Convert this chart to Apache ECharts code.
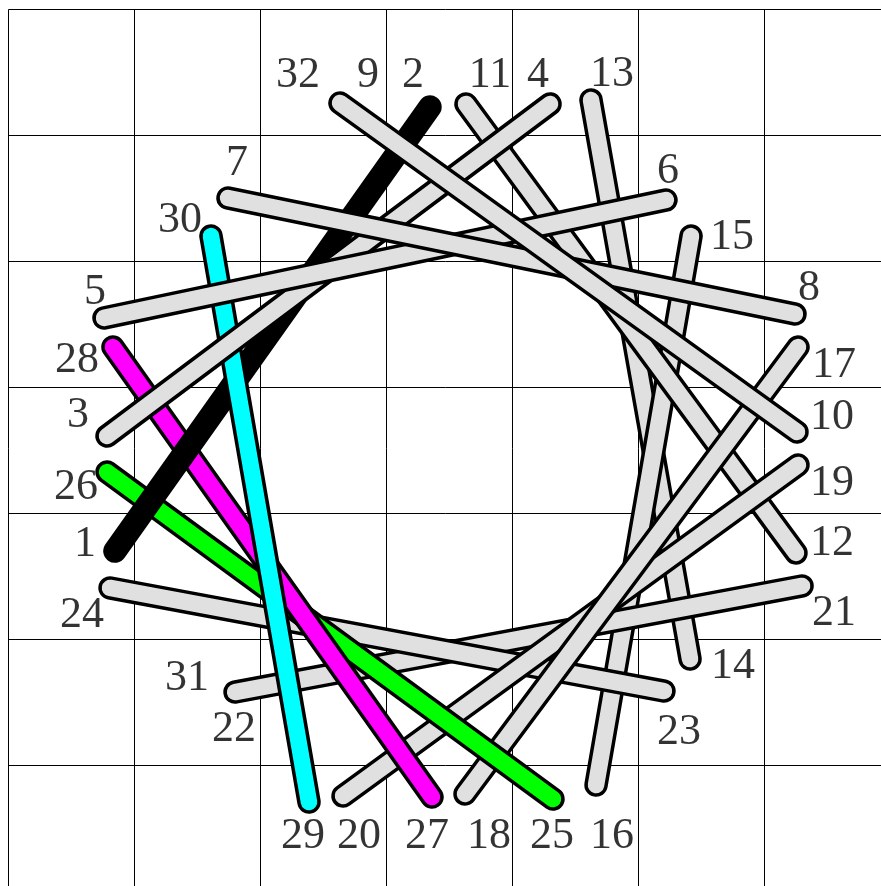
<!DOCTYPE html>
<html><head><meta charset="utf-8">
<script src="https://cdn.jsdelivr.net/npm/echarts@6/dist/echarts.min.js"></script>
<style>html,body{margin:0;padding:0;background:#fff}#c{width:881px;height:886px}</style>
</head><body><div id="c"></div>
<script>
// Endpoint coordinates (grid cell units, y measured downward from the top line)
const pointNumbers = [1,2,3,4,5,6,7,8,9,10,11,12,13,14,15,16,17,18,19,20,21,22,23,24,25,26,27,28,29,30];
const pointX = [0.845,3.345,0.782,4.298,0.758,5.218,1.742,6.242,2.631,6.258,3.631,6.25,4.623,5.409,5.417,4.663,6.266,3.623,6.266,2.655,6.298,1.798,5.202,0.806,4.321,0.782,3.361,0.829,2.385,1.607];
const pointY = [4.298,0.774,3.385,0.75,2.448,1.512,1.496,2.417,0.742,3.353,0.75,4.313,0.718,5.155,1.798,6.155,2.679,6.226,3.615,6.242,4.575,5.417,5.409,4.591,6.266,3.671,6.25,2.679,6.29,1.798];

// Sticks (pairs of endpoint numbers), listed from bottom to top
const sticks = [[13,14],[15,16],[11,12],[21,22],[23,24],[19,20],[17,18],[25,26],[27,28],[1,2],[29,30],[3,4],[5,6],[7,8],[9,10]];
const stickColors = ['#e0e0e0','#e0e0e0','#e0e0e0','#e0e0e0','#e0e0e0','#e0e0e0','#e0e0e0','#00ff00','#ff00ff','#000000','#00ffff','#e0e0e0','#e0e0e0','#e0e0e0','#e0e0e0'];

// Number labels
const labelText = ['32','9','2','11','4','13','7','6','30','15','5','8','28','17','3','10','26','19','1','12','24','21','31','14','22','23','29','20','27','18','25','16'];
const labelX = [2.298,2.853,3.21,3.821,4.202,4.79,1.813,5.234,1.361,5.742,0.687,6.353,0.544,6.552,0.552,6.536,0.536,6.536,0.607,6.536,0.583,6.552,1.417,5.75,1.79,5.321,2.337,2.782,3.321,3.813,4.313,4.79];
const labelY = [0.52,0.52,0.52,0.52,0.52,0.512,1.218,1.282,1.671,1.806,2.242,2.21,2.782,2.821,3.218,3.234,3.79,3.758,4.242,4.234,4.806,4.79,5.306,5.21,5.71,5.734,6.56,6.56,6.56,6.56,6.56,6.56];

const pt = n => { const i = pointNumbers.indexOf(n); return [pointX[i], pointY[i]]; };
const series = [];
sticks.forEach((s, k) => {
  const data = [pt(s[0]), pt(s[1])];
  series.push({type:'line', data, symbol:'none', silent:true, animation:false,
    lineStyle:{color:'#000', width:23.5, cap:'round'}});
  series.push({type:'line', data, symbol:'none', silent:true, animation:false,
    lineStyle:{color:stickColors[k], width:16.5, cap:'round'}});
});
series.push({type:'scatter', symbolSize:0, silent:true, animation:false,
  data: labelText.map((t,i)=>[labelX[i], labelY[i], t]),
  label:{show:true, position:'inside', formatter:p=>p.value[2],
    fontFamily:'Liberation Serif', fontSize:44, color:'#000', textBorderWidth:0}});

const chart = echarts.init(document.getElementById('c'), null, {renderer:'canvas'});
chart.setOption({
  animation:false,
  grid:{left:8.5, top:9.5, width:882, height:882, show:false, outerBoundsMode:'none', containLabel:false},
  xAxis:{type:'value', min:0, max:7, interval:1, axisLine:{show:false}, axisTick:{show:false}, axisLabel:{show:false},
    splitLine:{show:true, lineStyle:{color:'#000', width:1}}},
  yAxis:{type:'value', min:0, max:7, interval:1, inverse:true, axisLine:{show:false}, axisTick:{show:false}, axisLabel:{show:false},
    splitLine:{show:true, lineStyle:{color:'#000', width:1}}},
  series
});
</script></body></html>
